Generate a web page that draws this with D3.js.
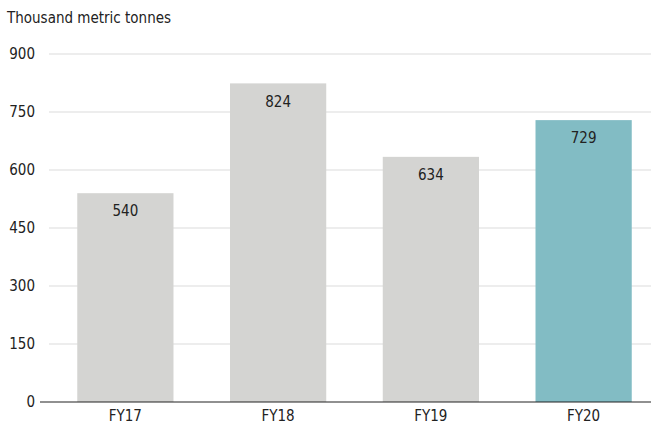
<!DOCTYPE html>
<html>
<head>
<meta charset="utf-8">
<script src="https://cdn.jsdelivr.net/npm/d3@7"></script>
<style>
  html, body { margin: 0; padding: 0; background: #fff; }
  svg { display: block; font-family: "DejaVu Sans Condensed", "DejaVu Sans", sans-serif; font-stretch: condensed; }
</style>
</head>
<body>
<svg id="chart" width="651" height="424"></svg>
<script>
const categories = ["FY17", "FY18", "FY19", "FY20"];
const values = [540, 824, 634, 729];
const yTicks = [0, 150, 300, 450, 600, 750, 900];
const unitLabel = "Thousand metric tonnes";

const svg = d3.select("#chart");
const margin = { top: 54, bottom: 22, left: 49, right: -9 };
const W = 651, H = 424;

const x = d3.scaleBand()
  .domain(categories)
  .range([margin.left, W - margin.right])
  .paddingInner(0.37)
  .paddingOuter(0.185);

const y = d3.scaleLinear()
  .domain([0, 900])
  .range([H - margin.bottom, margin.top]);

// gridlines
svg.append("g")
  .selectAll("line")
  .data(yTicks.filter(d => d > 0))
  .join("line")
  .attr("x1", 49).attr("x2", W)
  .attr("y1", d => y(d)).attr("y2", d => y(d))
  .attr("stroke", "#dcdcdc").attr("stroke-width", 1.2);

// y tick labels
svg.append("g")
  .selectAll("text")
  .data(yTicks)
  .join("text")
  .attr("x", 35).attr("y", d => y(d))
  .attr("dy", "0.35em")
  .attr("text-anchor", "end")
  .attr("font-size", 15)
  .attr("fill", "#222")
  .text(d => d);

// bars
svg.append("g")
  .selectAll("rect")
  .data(values)
  .join("rect")
  .attr("x", (d, i) => x(categories[i]))
  .attr("width", x.bandwidth())
  .attr("y", d => y(d))
  .attr("height", d => y(0) - y(d))
  .attr("fill", (d, i) => i === values.length - 1 ? "#82bcc4" : "#d4d4d2");

// value labels
svg.append("g")
  .selectAll("text")
  .data(values)
  .join("text")
  .attr("x", (d, i) => x(categories[i]) + x.bandwidth() / 2)
  .attr("y", d => y(d) + 18)
  .attr("dy", "0.35em")
  .attr("text-anchor", "middle")
  .attr("font-size", 15)
  .attr("fill", "#222")
  .text(d => d);

// baseline
svg.append("line")
  .attr("x1", 40).attr("x2", W)
  .attr("y1", y(0)).attr("y2", y(0))
  .attr("stroke", "#222").attr("stroke-width", 1.2);

// category labels
svg.append("g")
  .selectAll("text")
  .data(categories)
  .join("text")
  .attr("x", d => x(d) + x.bandwidth() / 2)
  .attr("y", y(0) + 14)
  .attr("dy", "0.35em")
  .attr("text-anchor", "middle")
  .attr("font-size", 15)
  .attr("fill", "#222")
  .text(d => d);

// unit label
svg.append("text")
  .attr("x", 7).attr("y", 23)
  .attr("font-size", 15)
  .attr("fill", "#222")
  .text(unitLabel);
</script>
</body>
</html>
